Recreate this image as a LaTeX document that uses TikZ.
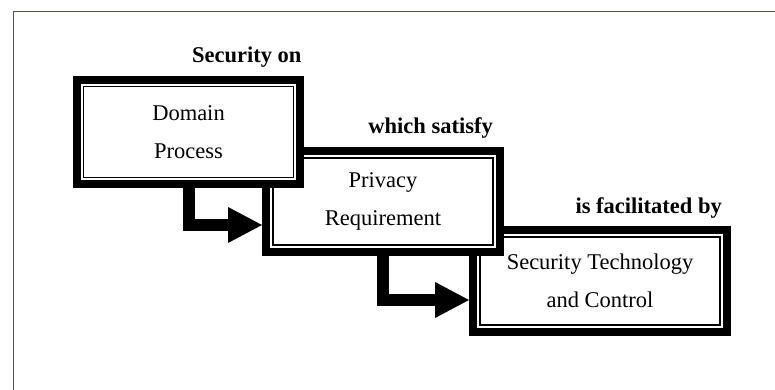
\documentclass[tikz,border=0pt]{standalone}
\usepackage{fontspec}
\setmainfont{Liberation Serif}
\usepackage{tikz}
\usetikzlibrary{calc}
\usetikzlibrary{arrows.meta}
\definecolor{framegray}{RGB}{82,82,66}
\tikzset{
	stage/.style={draw=black,fill=white,line width=8pt,outer sep=4pt,inner sep=0pt,align=center,font=\fontsize{22.5}{38.5}\selectfont},
	relation/.style={inner sep=0pt,anchor=base east,font=\fontsize{22.5}{27}\selectfont\bfseries},
	flow/.style={line width=12pt,line join=miter,-{Triangle[length=34pt,width=36pt,line width=0pt]}},
}
\newcommand{\innerframe}[1]{%
	\draw[line width=1.3pt] ($ (#1.south west) + (11pt,11pt) $) rectangle ($ (#1.north east) + (-11pt,-11pt) $);%
}

\begin{document}
\begin{tikzpicture}[x=1pt,y=-1pt]
	\useasboundingbox (0,0) rectangle (775,390);
	\draw[draw=framegray,line width=1.6pt] (775,11.5) -- (13.5,11.5) -- (13.5,390);
	\node[stage,minimum width=254pt,minimum height=102pt] (tech) at (600,281) {Security Technology\\and Control};
	\innerframe{tech}
	\node[stage,minimum width=234pt,minimum height=101pt] (priv) at (383,201.5) {Privacy\\Requirement};
	\innerframe{priv}
	\node[stage,minimum width=223.6pt,minimum height=104.6pt] (dom) at (188.5,132) {Domain\\Process};
	\innerframe{dom}
	\node[relation] (on) at ($ (dom.north east) + (-2.6pt,13pt) $) {Security on};
	\node[relation] (satisfy) at ($ (priv.north east) + (-11pt,13pt) $) {which satisfy};
	\node[relation] (facil) at ($ (tech.north east) + (-9pt,13pt) $) {is facilitated by};
	\draw[flow] (dom.south) |- ($ (priv.west) + (0,-23.5pt) $);
	\draw[flow] (priv.south) |- ($ (tech.west) + (0,-19pt) $);
\end{tikzpicture}
\end{document}
